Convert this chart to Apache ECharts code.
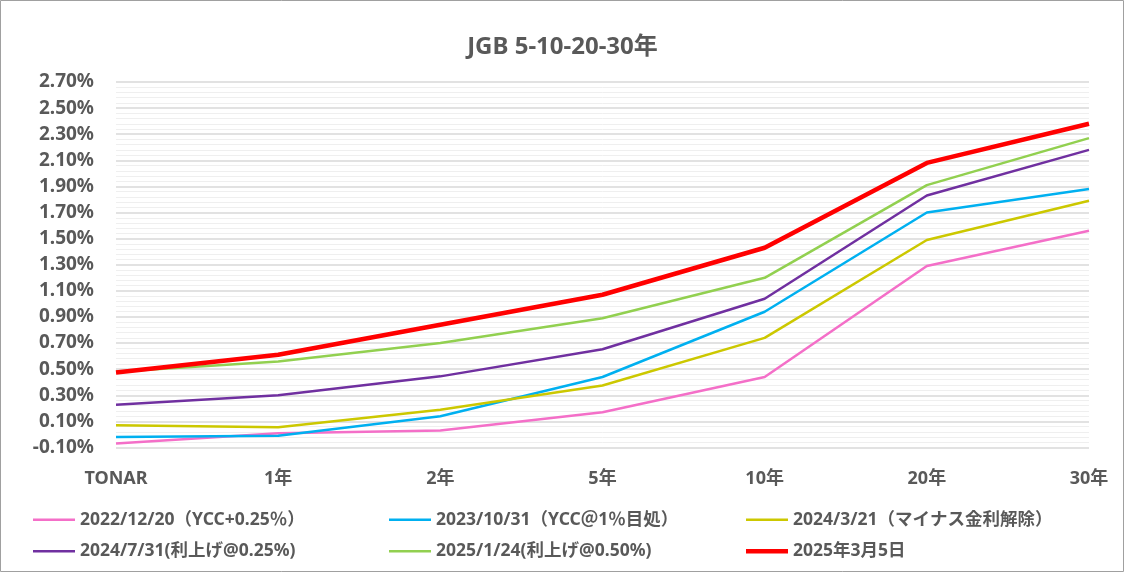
<!DOCTYPE html>
<html>
<head>
<meta charset="utf-8">
<script src="https://cdn.jsdelivr.net/npm/echarts@6/dist/echarts.min.js"></script>
<style>
  html, body { margin: 0; padding: 0; background: #fff; }
  #chart { width: 1125px; height: 573px; }
</style>
</head>
<body>
<div id="chart"></div>
<script>
const categories = ['TONAR', '1年', '2年', '5年', '10年', '20年', '30年']

const seriesNames = [
  '2022/12/20（YCC+0.25％）',
  '2023/10/31（YCC＠1％目処）',
  '2024/3/21（マイナス金利解除）',
  '2024/7/31(利上げ@0.25%)',
  '2025/1/24(利上げ@0.50%)',
  '2025年3月5日'
]

const y20221220 = [-0.07, 0.01, 0.03, 0.17, 0.44, 1.29, 1.56]
const y20231031 = [-0.02, -0.01, 0.14, 0.44, 0.94, 1.70, 1.88]
const y20240321 = [0.07, 0.055, 0.19, 0.375, 0.74, 1.49, 1.79]
const y20240731 = [0.227, 0.30, 0.445, 0.653, 1.04, 1.83, 2.18]
const y20250124 = [0.48, 0.558, 0.70, 0.89, 1.20, 1.91, 2.27]
const y20250305 = [0.475, 0.61, 0.84, 1.07, 1.43, 2.08, 2.38]

const seriesData = [y20221220, y20231031, y20240321, y20240731, y20250124, y20250305]
const colors = ['#F46FC8', '#00B0F0', '#CCC800', '#7030A0', '#92D050', '#FF0000']
const widths = [2.5, 2.5, 2.5, 2.5, 2.5, 4.5]

const fontFamily = `"Noto Sans", "Noto Sans CJK JP", sans-serif`
const textColor = '#595959'

// legend icon: a flat bar as thick as the series line
const barIcon = w => `path://M0,0H42V${w}H0Z`

const chart = echarts.init(document.getElementById('chart'))

const legendBox = (idx, left) => ({
  orient: 'vertical',
  left: left,
  top: 511,
  padding: 0,
  itemWidth: 42,
  itemHeight: 14,
  itemGap: 14,
  data: idx.map(i => ({ name: seriesNames[i], icon: barIcon(widths[i]) })),
  textStyle: { color: textColor, fontFamily, fontWeight: 'bold', fontSize: 17.5 }
})

const option = {
  animation: false,
  backgroundColor: '#fff',
  title: {
    text: 'JGB 5-10-20-30年',
    left: 'center',
    top: 30,
    textStyle: { color: textColor, fontFamily, fontWeight: 'bold', fontSize: 24 }
  },
  legend: [
    legendBox([0, 3], 33),
    legendBox([1, 4], 389),
    legendBox([2, 5], 746)
  ],
  grid: { left: 116, right: 36, top: 82, bottom: 125.5 },
  xAxis: {
    type: 'category',
    data: categories,
    boundaryGap: false,
    axisLine: { show: false },
    axisTick: { show: false },
    axisLabel: {
      margin: 22,
      color: textColor,
      fontFamily,
      fontWeight: 'bold',
      fontSize: 18
    },
    splitLine: { show: false }
  },
  yAxis: {
    type: 'value',
    min: -0.1,
    max: 2.7,
    interval: 0.2,
    axisLine: { show: false },
    axisTick: { show: false },
    axisLabel: {
      margin: 22,
      color: textColor,
      fontFamily,
      fontWeight: 'bold',
      fontSize: 19,
      formatter: v => v.toFixed(2) + '%'
    },
    splitLine: { lineStyle: { color: '#d9d9d9', width: 1.5 } },
    minorTick: { show: false, splitNumber: 5 },
    minorSplitLine: { show: true, lineStyle: { color: '#efefef', width: 1 } }
  },
  series: seriesNames.map((name, i) => ({
    name,
    type: 'line',
    data: seriesData[i],
    symbol: 'none',
    color: colors[i],
    lineStyle: { color: colors[i], width: widths[i] },
    z: 2 + i
  })),
  graphic: [{
    type: 'rect',
    shape: { x: 0.5, y: 0.5, width: 1123, height: 571 },
    style: { fill: 'none', stroke: '#a0a0a0', lineWidth: 1 },
    silent: true
  }]
}

chart.setOption(option)
</script>
</body>
</html>
